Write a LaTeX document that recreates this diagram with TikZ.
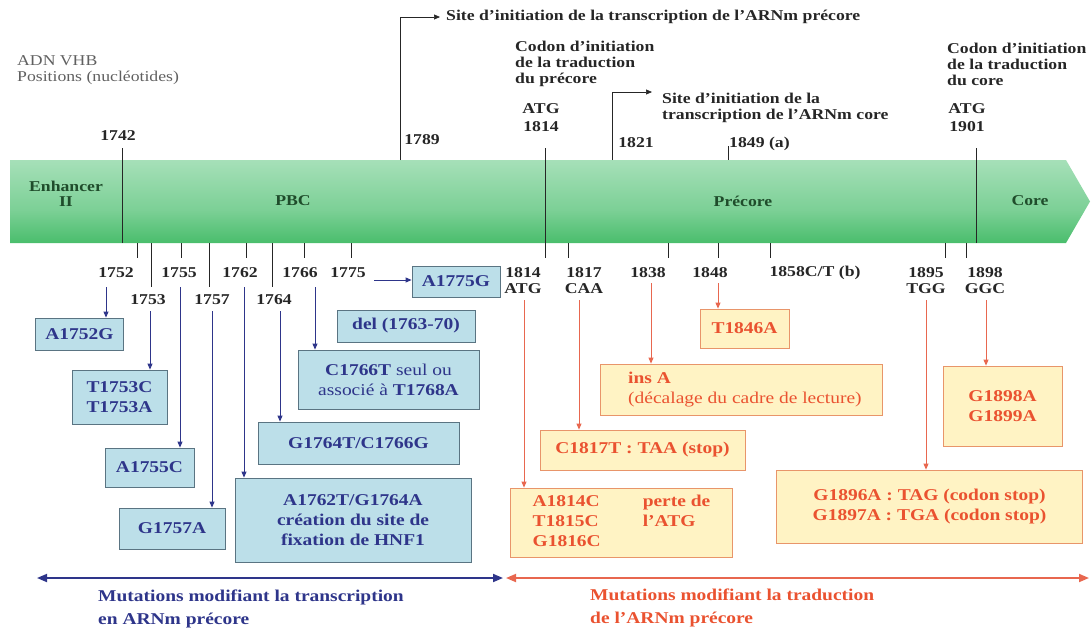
\documentclass[tikz,border=0pt]{standalone}
\usepackage{fontspec}
\setmainfont{Liberation Serif}[FakeStretch=1.18]
\usetikzlibrary{arrows.meta}
\definecolor{navy}{HTML}{2E358A}
\definecolor{bfill}{HTML}{BCDFE9}
\definecolor{bline}{HTML}{5A7482}
\definecolor{ofill}{HTML}{FFF3C4}
\definecolor{oline}{HTML}{E8956A}
\definecolor{otext}{HTML}{EA5230}
\definecolor{rline}{HTML}{E8674F}
\definecolor{gtop}{HTML}{C9EDD5}
\definecolor{gmid}{HTML}{7CD096}
\definecolor{gbot}{HTML}{25B04E}
\definecolor{gtext}{HTML}{1F4C2B}
\definecolor{dtext}{HTML}{262626}
\pgfdeclareverticalshading{bandsh}{100bp}{color(0bp)=(gbot); color(14bp)=(gbot!90!gmid); color(45bp)=(gmid); color(100bp)=(gtop)}
\begin{document}
\begin{tikzpicture}[x=1pt,y=-1pt,
  font=\fontsize{15}{17}\selectfont\bfseries,
  tick/.style={draw=dtext, line width=0.7pt},
  tip/.style={-{Triangle[length=6pt,width=5pt]}},
  barr/.style={draw=navy, line width=0.9pt, tip},
  rarr/.style={draw=rline, line width=0.9pt, tip},
  bbox/.style={draw=bline, fill=bfill, text=navy, line width=0.8pt, inner sep=0pt, align=center, font=\fontsize{16.5}{20}\selectfont\bfseries},
  obox/.style={draw=oline, fill=ofill, text=otext, line width=0.8pt, inner sep=0pt, align=center, font=\fontsize{16.5}{20}\selectfont\bfseries},
  num/.style={text=dtext, inner sep=0pt, align=center},
  desc/.style={text=dtext, inner sep=0pt, align=left, anchor=west, font=\fontsize{15}{16}\selectfont\bfseries},
  bandtxt/.style={text=gtext, inner sep=0pt, align=center},
  bigarr/.style={line width=1.8pt, {Triangle[length=10pt,width=8pt]}-{Triangle[length=10pt,width=8pt]}}
]
\useasboundingbox (0,0) rectangle (1092,630);

% ---------- band ----------
\shade[shading=bandsh] (10,160) -- (1066,160) -- (1090,201.5) -- (1066,243) -- (10,243) -- cycle;
\node[bandtxt] (enh) at (66,194) {Enhancer\\[-2pt]II};
\node[bandtxt] (pbc) at (293,201) {PBC};
\node[bandtxt] (prec) at (743,201) {Précore};
\node[bandtxt] (core) at (1030,201) {Core};

% ---------- top labels ----------
\node[desc, font=\fontsize{15}{16}\selectfont\mdseries, text=gray!75!black] (adn) at (17,70) {ADN VHB\\Positions (nucléotides)};
\node[desc] (site1) at (446,17) {Site d'initiation de la transcription de l'ARNm précore};
\node[desc] (cod1) at (515,64) {Codon d'initiation\\de la traduction\\du précore};
\node[desc] (site2) at (662,108) {Site d'initiation de la\\transcription de l'ARNm core};
\node[desc] (cod2) at (947,64) {Codon d'initiation\\de la traduction\\du core};

\node[num] (n1742) at (118,136) {1742};
\node[num] (n1789) at (422,140) {1789};
\node[num] (n1814) at (541,118) {ATG\\[1pt]1814};
\node[num] (n1821) at (636,143) {1821};
\node[num, anchor=west] (n1849) at (729,144) {1849 (a)};
\node[num] (n1901) at (967,118) {ATG\\[1pt]1901};

% lines through / above the band
\coordinate (l1742) at (122,148);
\draw[tick] (l1742) -- (l1742 |- 0,243);
\coordinate (l1814) at (545,148);
\draw[tick] (l1814) -- (l1814 |- 0,258);
\coordinate (l1901) at (976,148);
\draw[tick] (l1901) -- (l1901 |- 0,243);
\coordinate (l1849) at (728,146);
\draw[tick] (l1849) -- (l1849 |- 0,160);
\coordinate (l1789) at (400,160);
\draw[tick, tip] (l1789) |- ([xshift=-6pt]site1.west);
\coordinate (l1821) at (612,160);
\draw[tick, tip] (l1821) |- ([xshift=-10pt,yshift=1pt]site2.north west);

% ---------- ticks below band ----------
\foreach \xx in {137,181,246,304,351,568,668,718,770,945,966}
  \draw[tick] (\xx,243) -- (\xx,258);
\foreach \xx in {151,209,272}
  \draw[tick] (\xx,243) -- (\xx,287);

% ---------- position labels below ----------
\node[num] (n1752) at (116,273) {1752};
\node[num] (n1755) at (179,273) {1755};
\node[num] (n1762) at (240,273) {1762};
\node[num] (n1766) at (300,273) {1766};
\node[num] (n1775) at (348,273) {1775};
\node[num] (n1753) at (148,300) {1753};
\node[num] (n1757) at (212,300) {1757};
\node[num] (n1764) at (274,300) {1764};

\node[num] (n1814b) at (523,281) {1814\\[-1pt]ATG};
\node[num] (n1817) at (584,281) {1817\\[-1pt]CAA};
\node[num] (n1838) at (648,273) {1838};
\node[num] (n1848) at (710,273) {1848};
\node[num] (n1858) at (815,273) {1858C/T (b)};
\node[num] (n1895) at (926,281) {1895\\[-1pt]TGG};
\node[num] (n1898) at (985,281) {1898\\[-1pt]GGC};

% ---------- blue boxes ----------
\node[bbox, minimum width=88, minimum height=32] (a1752) at (79.5,334) {A1752G};
\node[bbox, minimum width=95, minimum height=54] (t1753) at (119.5,397) {T1753C\\T1753A};
\node[bbox, minimum width=89, minimum height=39] (a1755) at (149.5,467.5) {A1755C};
\node[bbox, minimum width=106, minimum height=41] (g1757) at (172,528.5) {G1757A};
\node[bbox, minimum width=236, minimum height=84] (a1762) at (353,520) {A1762T/G1764A\\création du site de\\fixation de HNF1};
\node[bbox, minimum width=201, minimum height=42] (g1764) at (358.5,443) {G1764T/C1766G};
\node[bbox, minimum width=181, minimum height=59] (c1766) at (388.5,379.5) {C1766T \mdseries seul ou\\\mdseries associé à \bfseries T1768A};
\node[bbox, minimum width=138, minimum height=32] (del) at (406,326) {del (1763-70)};
\node[bbox, minimum width=88, minimum height=31] (a1775) at (456,281.5) {A1775G};

% ---------- orange boxes ----------
\node[obox, minimum width=89, minimum height=39] (t1846) at (744.5,328.5) {T1846A};
\node[obox, minimum width=282, minimum height=51] (insa) at (741,389.5) {};
\node[text=otext, inner sep=0pt, align=left, anchor=west, font=\fontsize{16.5}{20}\selectfont\bfseries] (insat) at (628,390) {ins A\\\mdseries(décalage du cadre de lecture)};
\node[obox, minimum width=205, minimum height=40] (c1817) at (642.5,450) {C1817T : TAA (stop)};
\node[obox, minimum width=222, minimum height=69] (a1814) at (621.5,522.5)
  {\begin{tabular}{@{}l@{\hspace{42pt}}l@{}}A1814C & perte de\\T1815C & l'ATG\\G1816C & \end{tabular}};
\node[obox, minimum width=119, minimum height=80] (g1898) at (1002.5,406) {G1898A\\G1899A};
\node[obox, minimum width=306, minimum height=73] (g1896) at (929.5,506.5) {G1896A : TAG (codon stop)\\G1897A : TGA (codon stop)};

% ---------- blue arrows ----------
\coordinate (s1752) at (106,287);  \draw[barr] (s1752) -- (s1752 |- a1752.north);
\coordinate (s1753) at (150,311);  \draw[barr] (s1753) -- (s1753 |- t1753.north);
\coordinate (s1755) at (180,287);  \draw[barr] (s1755) -- (s1755 |- a1755.north);
\coordinate (s1757) at (212,311);  \draw[barr] (s1757) -- (s1757 |- g1757.north);
\coordinate (s1762) at (244,287);  \draw[barr] (s1762) -- (s1762 |- a1762.north);
\coordinate (s1764) at (280,311);  \draw[barr] (s1764) -- (s1764 |- g1764.north);
\coordinate (s1766) at (315,287);  \draw[barr] (s1766) -- (s1766 |- c1766.north);
\coordinate (s1775) at (374,280);  \draw[barr] (s1775) -- (s1775 -| a1775.west);

% ---------- red arrows ----------
\coordinate (s1814) at (524,300);  \draw[rarr] (s1814) -- (s1814 |- a1814.north);
\coordinate (s1817) at (579,300);  \draw[rarr] (s1817) -- (s1817 |- c1817.north);
\coordinate (s1838) at (651,283);  \draw[rarr] (s1838) -- (s1838 |- insa.north);
\coordinate (s1848) at (718,283);  \draw[rarr] (s1848) -- (s1848 |- t1846.north);
\coordinate (s1895) at (926,300);  \draw[rarr] (s1895) -- (s1895 |- g1896.north);
\coordinate (s1898) at (986,300);  \draw[rarr] (s1898) -- (s1898 |- g1898.north);

% ---------- bottom ----------
\coordinate (bl) at (37,578);
\coordinate (bm) at (503,578);
\coordinate (rm) at (506,578);
\coordinate (rr) at (1089,578);
\draw[bigarr, draw=navy, fill=navy] (bl) -- (bm);
\draw[bigarr, draw=rline, fill=rline] (rm) -- (rr);
\node[desc, text=navy, font=\fontsize{16.5}{23}\selectfont\bfseries] (mt) at (98,609) {Mutations modifiant la transcription\\en ARNm précore};
\node[desc, text=otext, font=\fontsize{16.5}{23}\selectfont\bfseries] (mr) at (590,608) {Mutations modifiant la traduction\\de l'ARNm précore};
\end{tikzpicture}
\end{document}
